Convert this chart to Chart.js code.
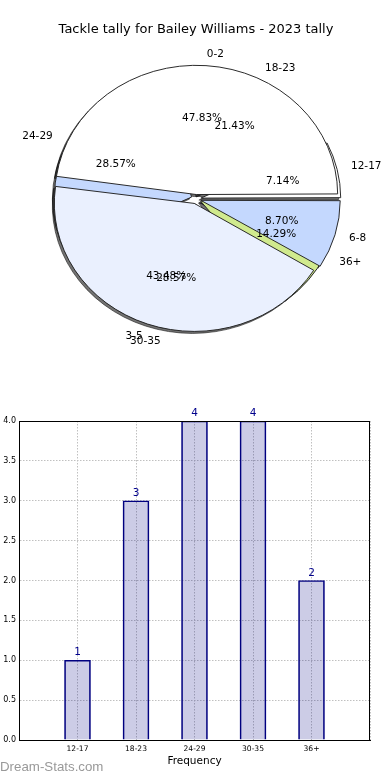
<!DOCTYPE html>
<html>
<head>
<meta charset="utf-8">
<script src="https://cdn.jsdelivr.net/npm/chart.js@4.4.0/dist/chart.umd.min.js"></script>
<style>
  html, body { margin: 0; padding: 0; background: #fff; }
  #wrap { position: relative; width: 390px; height: 780px; overflow: hidden; }
  #cPie { position: absolute; left: 0; top: 0; }
  #cBar { position: absolute; left: 0; top: 400px; }
  #brand { position: absolute; left: 0; top: 760px; font: 13.3px/13px "Liberation Sans", Arial, sans-serif; color: #999; }
</style>
</head>
<body>
<div id="wrap">
  <canvas id="cPie" width="390" height="370"></canvas>
  <canvas id="cBar" width="390" height="380"></canvas>
  <div id="brand">Dream-Stats.com</div>
</div>
<script>
// ---- data ----
const chartTitle = 'Tackle tally for Bailey Williams - 2023 tally';

// pie drawn on top
const lowBins   = ['0-2', '3-5', '6-8'];
const lowCounts = [11, 10, 2];
const lowColors = ['#ffffff', '#eaf0fe', '#c4d8fe'];

// pie drawn underneath + bar chart
const freqBins   = ['12-17', '18-23', '24-29', '30-35', '36+'];
const freqCounts = [1, 3, 4, 4, 2];
const freqColors = ['#ffffff', '#eaf0fe', '#c4d8fe', '#eaf0fe', '#d0ea8e'];

const yTicks = { min: 0, max: 4, step: 0.5 };

Chart.defaults.font.family = '"DejaVu Sans", sans-serif';
Chart.defaults.color = '#000';

// matplotlib draws counter-clockwise from 3 o'clock, chart.js clockwise -> reverse order
const rev = a => a.slice().reverse();
const KY = 128 / 140;   // pie axes are not square in the original, so it's an ellipse

function squash(ctx, cx, cy) {
  ctx.translate(cx, cy);
  ctx.scale(1, KY);
  ctx.translate(-cx, -cy);
}

// both pies share the same full radius (stacked, not rings), shadow + labels
const pieLayers = {
  id: 'pieLayers',
  afterDatasetsUpdate(chart) {
    const r = chart.getDatasetMeta(0).controller.outerRadius;
    chart.data.datasets.forEach((_, i) => {
      chart.getDatasetMeta(i).data.forEach(a => { a.outerRadius = r; a.innerRadius = 0; });
    });
  },
  beforeDatasetsDraw(chart) {
    const ctx = chart.ctx;
    const c = chart.getDatasetMeta(0).data[0];
    ctx.save();
    ctx.translate(-2, 2);
    squash(ctx, c.x, c.y);
    ctx.filter = 'brightness(0) opacity(0.55)';
    [1, 0].forEach(i => chart.getDatasetMeta(i).data.forEach(a => a.draw(ctx)));
    ctx.restore();
    ctx.save();
    squash(ctx, c.x, c.y);
  },
  afterDatasetsDraw(chart) {
    chart.ctx.restore();
  },
  afterDraw(chart) {
    const ctx = chart.ctx;
    // exploded arcs come out a few px bigger in chart.js, text follows the drawn size
    const r = chart.getDatasetMeta(0).controller.outerRadius + 3;
    ctx.save();
    ctx.font = '10.5px "DejaVu Sans"';
    ctx.fillStyle = '#000';
    ctx.textBaseline = 'middle';
    chart.data.datasets.forEach((ds, i) => {
      const meta = chart.getDatasetMeta(i);
      const total = ds.data.reduce((s, v) => s + v, 0);
      const d = ds.offset / 4;
      meta.data.forEach((a, j) => {
        const mid = (a.startAngle + a.endAngle) / 2;
        const at = k => [a.x + Math.cos(mid) * (d + k * r), a.y + Math.sin(mid) * (d + k * r) * KY];
        const [lx, ly] = at(1.1);
        ctx.textAlign = lx > a.x ? 'left' : 'right';
        ctx.fillText(ds.binLabels[j], lx, ly);
        const [px, py] = at(0.6);
        ctx.textAlign = 'center';
        ctx.fillText((ds.data[j] / total * 100).toFixed(2) + '%', px, py);
      });
    });
    ctx.restore();
  }
};

new Chart(document.getElementById('cPie'), {
  type: 'pie',
  data: {
    datasets: [
      { data: rev(lowCounts), binLabels: rev(lowBins), backgroundColor: rev(lowColors),
        borderColor: '#222', borderWidth: 1, offset: 20, clip: false },
      { data: rev(freqCounts), binLabels: rev(freqBins), backgroundColor: rev(freqColors),
        borderColor: '#222', borderWidth: 1, offset: 20, clip: false },
    ]
  },
  options: {
    responsive: false, animation: false,
    rotation: 90,
    layout: { padding: { left: 48, right: 46, top: 0, bottom: 23.4 } },
    plugins: {
      legend: { display: false },
      tooltip: { enabled: false },
      title: { display: true, text: chartTitle, color: '#000',
               font: { size: 13, weight: 'normal' }, padding: { top: 22, bottom: 14 } },
    }
  },
  plugins: [pieLayers]
});

// ---- bar chart ----
const barExtras = {
  id: 'barExtras',
  afterDatasetsDraw(chart) {
    const { ctx, chartArea: a } = chart;
    ctx.save();
    ctx.font = '10.5px "DejaVu Sans"';
    ctx.fillStyle = '#00008b';
    ctx.textAlign = 'center';
    chart.getDatasetMeta(0).data.forEach((bar, i) => {
      ctx.fillText(String(freqCounts[i]), bar.x, bar.y - 5);
    });
    // full frame round the axes
    ctx.strokeStyle = '#000';
    ctx.lineWidth = 1;
    ctx.strokeRect(Math.round(a.left) + 0.5, Math.round(a.top) + 0.5,
                   Math.round(a.right - a.left) - 1, Math.round(a.bottom - a.top));
    ctx.restore();
  }
};

new Chart(document.getElementById('cBar'), {
  type: 'bar',
  data: {
    datasets: [{
      data: freqCounts.map((c, i) => ({ x: i + 1, y: c })),
      backgroundColor: 'rgba(0,0,128,0.2)',
      borderColor: '#000080',
      borderWidth: 1,
      barThickness: 26,
    }]
  },
  options: {
    responsive: false, animation: false,
    layout: { padding: { top: 21, right: 20, left: 0, bottom: 0 } },
    plugins: { legend: { display: false }, tooltip: { enabled: false } },
    scales: {
      x: {
        type: 'linear', min: 0, max: freqBins.length + 1, offset: false,
        grid: { color: '#c0c0c0', drawTicks: false, offset: false },
        border: { display: true, color: '#000', dash: [1.5, 1.5] },
        ticks: { stepSize: 1, autoSkip: false, maxRotation: 0, padding: 4,
                 font: { size: 7.6 }, color: '#000',
                 callback: v => freqBins[v - 1] || '' },
        title: { display: true, text: 'Frequency', color: '#000',
                 font: { size: 10.5 }, padding: { top: 0, bottom: 12.7 } },
        afterFit: s => { s.height = 40; }
      },
      y: {
        min: yTicks.min, max: yTicks.max,
        grid: { color: '#c0c0c0', drawTicks: false },
        border: { display: true, color: '#000', dash: [1.5, 1.5] },
        ticks: { stepSize: yTicks.step, padding: 3, font: { size: 8 }, color: '#000',
                 callback: v => v.toFixed(1) },
        afterFit: s => { s.width = 19; }
      }
    }
  },
  plugins: [barExtras]
});
</script>
</body>
</html>
